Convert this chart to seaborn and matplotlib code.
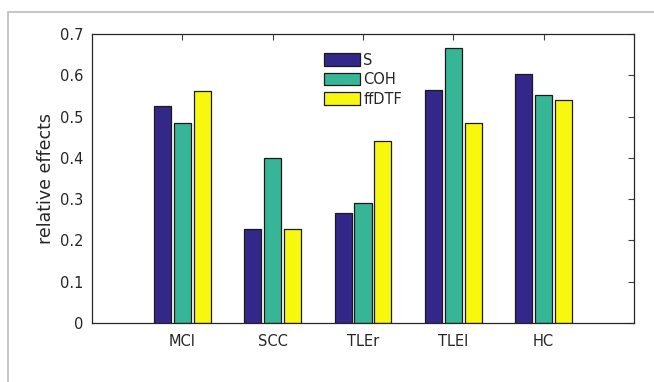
import numpy as np
import pandas as pd
import matplotlib as mpl
import matplotlib.pyplot as plt
import seaborn as sns

groups = ["MCI", "SCC", "TLEr", "TLEl", "HC"]
measures = ["S", "COH", "ffDTF"]
s_vals = [0.526, 0.228, 0.266, 0.565, 0.603]
coh_vals = [0.484, 0.399, 0.291, 0.667, 0.553]
ffdtf_vals = [0.563, 0.228, 0.442, 0.484, 0.539]
colors = ["#33288a", "#37b697", "#f8f80f"]
yticks = [0, 0.1, 0.2, 0.3, 0.4, 0.5, 0.6, 0.7]

df = pd.DataFrame({
    "group": groups * 3,
    "measure": [m for m in measures for _ in groups],
    "value": s_vals + coh_vals + ffdtf_vals,
})

sns.set_style("white")
plt.rcParams["font.family"] = ["DejaVu Sans"]

fig = plt.figure(figsize=(6.54, 3.82), dpi=100)
ax = fig.add_axes([92 / 654, 1 - 323 / 382, (634 - 92) / 654, (323 - 34) / 382])

sns.barplot(data=df, x="group", y="value", hue="measure", order=groups,
            hue_order=measures, palette=colors, width=0.66, gap=0.14,
            edgecolor="#1a1a1a", linewidth=0.9, saturation=1, ax=ax)

ax.set_xlim(-1, 5)
ax.set_ylim(0, 0.7)
ax.set_yticks(yticks)
ax.set_yticklabels(["0", "0.1", "0.2", "0.3", "0.4", "0.5", "0.6", "0.7"])
ax.set_xlabel("")
ax.set_ylabel("relative effects", fontsize=12.5, color="#262626", labelpad=4)
ax.tick_params(direction="in", top=True, right=True, length=4, width=0.8,
               colors="#404040", labelsize=10.5, labelcolor="#262626")
ax.tick_params(axis="y", pad=6)
ax.tick_params(axis="x", pad=8)
for sp in ax.spines.values():
    sp.set_color("#262626")
    sp.set_linewidth(0.9)

leg = ax.legend(loc="upper left", bbox_to_anchor=(0.428, 0.935), frameon=False,
                fontsize=10.5, handlelength=2.5, handleheight=0.95,
                handletextpad=0.2, labelspacing=0.3, borderpad=0,
                borderaxespad=0)
for h in leg.legend_handles:
    h.set_edgecolor("#1a1a1a")

fig.patches.append(mpl.patches.Rectangle((8 / 654, -0.05), 1.0, 1 - 12 / 382 + 0.05,
                                         transform=fig.transFigure, fill=False,
                                         edgecolor="#bdbdbd", linewidth=1.2))

fig.savefig("out.png", dpi=100)
